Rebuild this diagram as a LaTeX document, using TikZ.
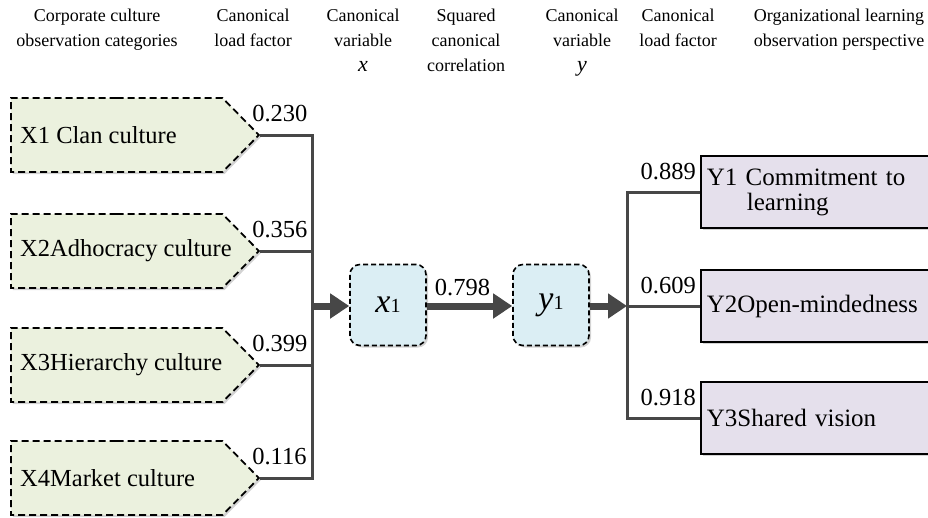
\documentclass[tikz,border=0pt]{standalone}
\usepackage{fontspec}
\setmainfont{Liberation Serif}
\usetikzlibrary{shapes.symbols,arrows.meta,shadows}
\definecolor{xfill}{HTML}{EBF1DE}
\definecolor{vfill}{HTML}{DBEEF4}
\definecolor{yfill}{HTML}{E5E0EC}
\definecolor{lgray}{HTML}{474747}
\begin{document}
\begin{tikzpicture}[x=1pt,y=-1pt,
    head/.style={align=center,anchor=north,inner sep=0pt,font=\fontsize{18}{25}\selectfont},
    xcat/.style={shape=signal,signal to=east,signal pointer angle=91,draw,dash pattern=on 7pt off 4pt,line width=1.8pt,fill=xfill,minimum width=248pt,minimum height=74pt,anchor=west,inner sep=0pt,drop shadow={shadow xshift=2pt,shadow yshift=-2pt,opacity=.35}},
    xtext/.style={anchor=west,inner sep=0pt,font=\fontsize{24.5}{28}\selectfont},
    canvar/.style={draw,dash pattern=on 5pt off 3pt,line width=1.6pt,rounded corners=10pt,fill=vfill,minimum width=76pt,minimum height=81pt,drop shadow={shadow xshift=2pt,shadow yshift=-2pt,opacity=.35}},
    ycat/.style={draw,line width=1.6pt,fill=yfill,anchor=west,minimum height=72pt,text width=222pt,align=left,inner xsep=6pt,font=\fontsize{25}{25}\selectfont,drop shadow={shadow xshift=2pt,shadow yshift=-2pt,opacity=.35}},
    val/.style={inner sep=0pt,font=\fontsize{24.5}{28}\selectfont},
    bus/.style={draw=lgray,line width=3pt},
    flow/.style={draw=lgray,line width=7pt,-{Triangle[length=19pt,width=24pt]}}
]
    \useasboundingbox (0,0) rectangle (928,517);
    \node[head] (h1) at (97,9) {Corporate culture\\observation categories};
    \node[head] (h2) at (253,9) {Canonical\\load factor};
    \node[head] (h3) at (363,9) {Canonical\\variable\\{\fontsize{22}{25}\selectfont\itshape x}};
    \node[head] (h4) at (466,9) {Squared\\canonical\\correlation};
    \node[head] (h5) at (582,9) {Canonical\\variable\\{\fontsize{22}{25}\selectfont\itshape y}};
    \node[head] (h6) at (678,9) {Canonical\\load factor};
    \node[head] (h7) at (839,9) {Organizational learning\\observation perspective};
    \coordinate (lbus) at (312,306);
    \coordinate (rbus) at (627,306);
    \foreach \i/\yc/\t/\v in {1/135/X1 Clan culture/0.230, 2/251/X2Adhocracy culture/0.356, 3/365/X3Hierarchy culture/0.399, 4/478/X4Market culture/0.116}{
        \node[xcat] (x\i) at (10,\yc) {};
        \node[xtext] (x\i t) at (20,\yc) {\t};
        \node[val,anchor=south west] (x\i v) at ([shift={(-8pt,13pt)}]x\i.east) {\v};
    }
    \draw[bus] (x1.east) -| (x4.east -| lbus) -- (x4.east);
    \draw[bus] (x2.east) -- (x2.east -| lbus);
    \draw[bus] (x3.east) -- (x3.east -| lbus);
    \node[canvar] (xv) at (388,305) {{\fontsize{34}{34}\selectfont\itshape x}{\fontsize{20}{20}\selectfont 1}};
    \node[canvar] (yv) at (551,305) {{\fontsize{34}{34}\selectfont\itshape y}{\fontsize{20}{20}\selectfont 1}};
    \draw[flow] (lbus) -- (lbus -| xv.west);
    \draw[flow] (xv.east |- lbus) -- (yv.west |- lbus) node[val,midway,above=7pt,xshift=-7pt] (r) {0.798};
    \draw[flow] (yv.east |- rbus) -- (rbus);
    \foreach \i/\yc/\t/\v in {1/192/{Y1 Commitment to\\\hspace*{40pt}learning}/0.889, 2/306/Y2Open-mindedness/0.609, 3/418/Y3Shared vision/0.918}{
        \node[ycat] (y\i) at (700,\yc) {\t};
        \node[val,anchor=south east] (y\i v) at ([shift={(-4pt,12pt)}]y\i.west) {\v};
    }
    \draw[bus] (y1.west) -| (rbus) |- (y3.west);
    \draw[bus] (rbus) -- (y2.west);
\end{tikzpicture}
\end{document}
